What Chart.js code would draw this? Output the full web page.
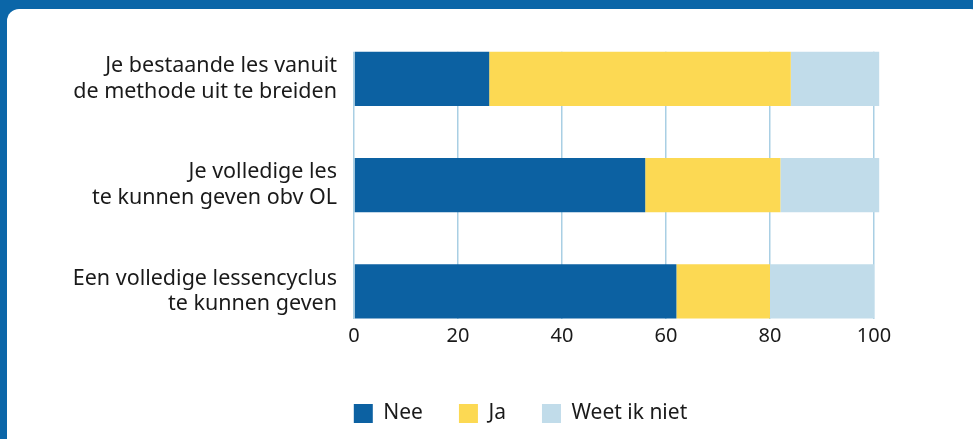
<!DOCTYPE html>
<html>
<head>
<meta charset="utf-8">
<script src="https://cdn.jsdelivr.net/npm/chart.js@4/dist/chart.umd.min.js"></script>
<style>
  html, body { margin: 0; padding: 0; }
  body { width: 973px; height: 439px; background: #0b66a8; overflow: hidden; position: relative; }
  .panel { position: absolute; left: 7px; top: 9px; right: -10px; bottom: -20px; background: #fff; border-radius: 12px; }
  #wrap { position: absolute; left: 7px; top: 9px; width: 966px; height: 430px; }
</style>
</head>
<body>
<div class="panel"></div>
<div id="wrap"><canvas id="chart"></canvas></div>
<script>
const categories = [
    ['Je bestaande les vanuit', 'de methode uit te breiden'],
    ['Je volledige les', 'te kunnen geven obv OL'],
    ['Een volledige lessencyclus', 'te kunnen geven']
];
const seriesNames = ['Nee', 'Ja', 'Weet ik niet'];
const nee = [26, 56, 62];
const ja = [58, 26, 18];
const weetIkNiet = [17, 19, 20];
const xTicks = [0, 20, 40, 60, 80, 100];

const colors = ['#0c61a2', '#fcd953', '#c1dcea'];
const labelFont = { family: '"Noto Sans", sans-serif', size: 21.5, lineHeight: 1.2 };
const legendFont = { family: '"Noto Sans", sans-serif', size: 21 };
const tickFont = { family: '"Noto Sans", sans-serif', size: 20 };

// rijen als punten op een lineaire as (0 bovenaan)
const toPoints = (arr) => arr.map((v, i) => ({ x: v, y: i }));

// legenda iets naar rechts schuiven, zoals in het origineel
const legendShift = {
    id: 'legendShift',
    afterLayout(chart) {
        chart.legend.left += 80;
        chart.legend.right += 80;
    }
};

const ctx = document.getElementById('chart').getContext('2d');
new Chart(ctx, {
    type: 'bar',
    data: {
        datasets: [nee, ja, weetIkNiet].map((arr, i) => ({
            label: seriesNames[i],
            data: toPoints(arr),
            backgroundColor: colors[i],
            borderWidth: 0,
            categoryPercentage: 1,
            barPercentage: 0.51,
            clip: false
        }))
    },
    options: {
        indexAxis: 'y',
        responsive: true,
        maintainAspectRatio: false,
        animation: false,
        layout: { padding: { left: 0, right: 99, top: 38, bottom: 5 } },
        scales: {
            x: {
                type: 'linear',
                stacked: true,
                min: 0,
                max: 100,
                afterBuildTicks: (scale) => { scale.ticks = xTicks.map(v => ({ value: v })); },
                afterFit: (scale) => { scale.height = 48.5; },
                border: { display: false },
                grid: { color: '#a9cfe4', lineWidth: 1.5, drawTicks: false },
                ticks: { font: tickFont, color: '#1a1a1a', padding: 6 }
            },
            y: {
                type: 'linear',
                stacked: true,
                reverse: true,
                offset: false,
                min: -0.255,
                max: 2.255,
                afterBuildTicks: (scale) => { scale.ticks = categories.map((_, i) => ({ value: i })); },
                afterFit: (scale) => { scale.width = 347; },
                border: { display: false },
                grid: { display: false, drawTicks: false },
                ticks: {
                    font: labelFont,
                    color: '#1a1a1a',
                    padding: 17,
                    callback: (v) => categories[v]
                }
            }
        },
        plugins: {
            legend: {
                position: 'bottom',
                labels: { boxWidth: 19, boxHeight: 19, padding: 36, font: legendFont, color: '#1a1a1a' }
            },
            tooltip: { enabled: false }
        }
    },
    plugins: [legendShift]
});
</script>
</body>
</html>
